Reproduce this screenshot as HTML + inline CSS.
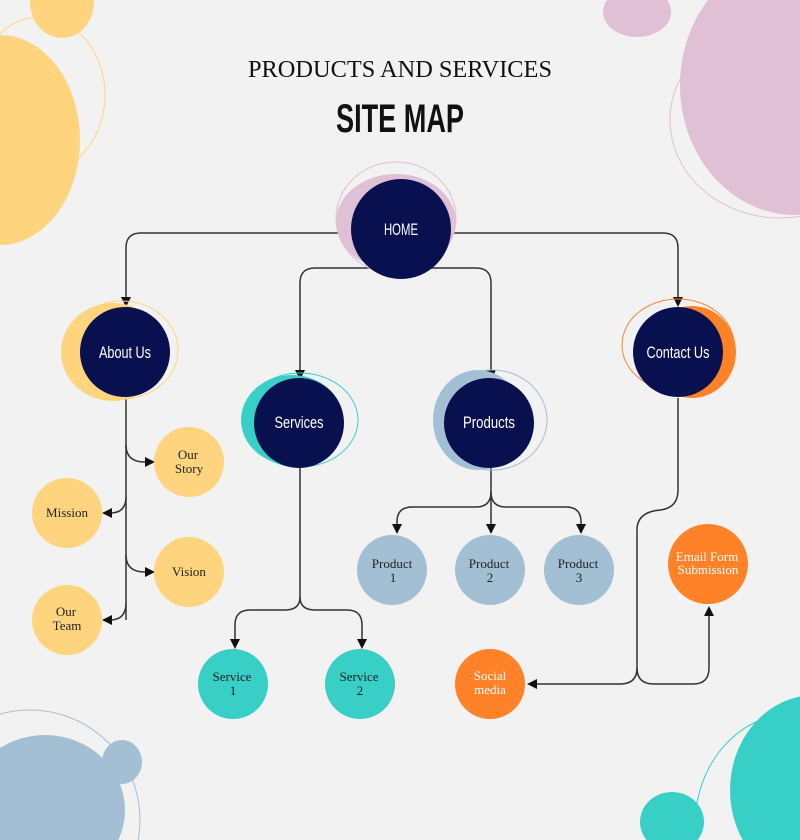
<!DOCTYPE html>
<html><head><meta charset="utf-8"><style>
html,body{margin:0;padding:0;background:#f2f2f2;width:800px;height:840px;overflow:hidden;position:relative;}
svg{display:block;overflow:hidden;position:absolute;left:0;top:0}
.cn{font-family:"Liberation Sans",sans-serif;fill:#fff;font-size:17px}
.sm{font-family:"Liberation Serif",serif;font-size:13px;fill:#222}
.w{fill:#fff}
</style></head><body>
<svg width="800" height="840" viewBox="0 0 800 840" xmlns="http://www.w3.org/2000/svg">
<defs>
<marker id="a" markerWidth="10" markerHeight="10" refX="8" refY="5" orient="auto" markerUnits="userSpaceOnUse">
<path d="M0,0 L10,5 L0,10 z" fill="#111"/></marker>
</defs>
<rect width="800" height="840" fill="#f2f2f2"/>
<ellipse cx="62" cy="2" rx="32" ry="36" fill="#FED57E"/>
<ellipse cx="0" cy="140" rx="80" ry="105" fill="#FED57E"/>
<ellipse cx="40" cy="95" rx="65" ry="78" fill="none" stroke="#FED57E" stroke-width="1"/>
<ellipse cx="637" cy="12" rx="34" ry="25" fill="#DFC0D4"/>
<ellipse cx="795" cy="85" rx="115" ry="130" fill="#DFC0D4"/>
<ellipse cx="780" cy="120" rx="110" ry="98" fill="none" stroke="#DFC0D4" stroke-width="1"/>
<ellipse cx="45" cy="810" rx="80" ry="75" fill="#A3BFD3"/>
<ellipse cx="122" cy="762" rx="20" ry="22" fill="#A3BFD3"/>
<ellipse cx="30" cy="820" rx="110" ry="110" fill="none" stroke="#A3BFD3" stroke-width="1"/>
<ellipse cx="815" cy="790" rx="85" ry="95" fill="#38D0C6"/>
<ellipse cx="672" cy="822" rx="32" ry="30" fill="#38D0C6"/>
<ellipse cx="795" cy="825" rx="100" ry="112" fill="none" stroke="#38D0C6" stroke-width="1"/>
<text x="400" y="77" text-anchor="middle" font-family="Liberation Serif,serif" font-size="24" fill="#111" textLength="304" lengthAdjust="spacingAndGlyphs">PRODUCTS AND SERVICES</text>
<text x="400" y="132" text-anchor="middle" font-family="Liberation Sans,sans-serif" font-weight="bold" font-size="40" fill="#111" textLength="128" lengthAdjust="spacingAndGlyphs">SITE MAP</text>
<g fill="none" stroke="#333" stroke-width="1.5">
<path d="M350,233 H141 Q126,233 126,248 V305" marker-end="url(#a)"/>
<path d="M452,233 H663 Q678,233 678,248 V305" marker-end="url(#a)"/>
<path d="M395,268 H315 Q300,268 300,283 V378" marker-end="url(#a)"/>
<path d="M405,268 H476 Q491,268 491,283 V378" marker-end="url(#a)"/>
<path d="M126,398 V620"/>
<path d="M126,445 Q126,462 145,462 H153" marker-end="url(#a)"/>
<path d="M126,497 Q126,513 110,513 H104" marker-end="url(#a)"/>
<path d="M126,555 Q126,572 145,572 H153" marker-end="url(#a)"/>
<path d="M126,603 Q126,620 110,620 H104" marker-end="url(#a)"/>
<path d="M300,468 V597 Q300,610 285,610 H250 Q235,610 235,625 V647" marker-end="url(#a)"/>
<path d="M300,597 Q300,610 315,610 H347 Q362,610 362,625 V647" marker-end="url(#a)"/>
<path d="M491,468 V532" marker-end="url(#a)"/>
<path d="M491,492 Q491,507 476,507 H412 Q397,507 397,522 V532" marker-end="url(#a)"/>
<path d="M491,492 Q491,507 506,507 H566 Q581,507 581,522 V532" marker-end="url(#a)"/>
<path d="M678,398 V490 Q678,508 660,510 Q637,512 637,530 V668 Q637,684 620,684 H529" marker-end="url(#a)"/>
<path d="M637,668 Q637,684 654,684 H693 Q709,684 709,668 V608" marker-end="url(#a)"/>
</g>
<ellipse cx="396" cy="222" rx="60" ry="48" fill="#DFC0D4"/>
<ellipse cx="396" cy="218" rx="60" ry="56" fill="none" stroke="#DFC0D4"/>
<circle cx="401" cy="229" r="50" fill="#08104F"/>
<text x="401" y="235" text-anchor="middle" class="cn" textLength="34" lengthAdjust="spacingAndGlyphs">HOME</text>
<ellipse cx="113" cy="352" rx="52" ry="49" fill="#FED57E"/>
<ellipse cx="122" cy="350" rx="56" ry="49" fill="none" stroke="#FED57E"/>
<circle cx="125" cy="352" r="45" fill="#08104F"/>
<text x="125" y="358" text-anchor="middle" class="cn" textLength="52" lengthAdjust="spacingAndGlyphs">About Us</text>
<ellipse cx="292" cy="420" rx="51" ry="45" fill="#38D0C6"/>
<ellipse cx="300" cy="420" rx="58" ry="47" fill="none" stroke="#38D0C6"/>
<circle cx="299" cy="423" r="45" fill="#08104F"/>
<text x="299" y="428" text-anchor="middle" class="cn" textLength="49" lengthAdjust="spacingAndGlyphs">Services</text>
<ellipse cx="478" cy="420" rx="45" ry="50" fill="#A3BFD3"/>
<ellipse cx="492" cy="420" rx="55" ry="50" fill="none" stroke="#A3BFD3"/>
<circle cx="489" cy="423" r="45" fill="#08104F"/>
<text x="489" y="428" text-anchor="middle" class="cn" textLength="52" lengthAdjust="spacingAndGlyphs">Products</text>
<ellipse cx="692" cy="352" rx="44" ry="46" fill="#FF8229"/>
<ellipse cx="678" cy="345" rx="56" ry="46" fill="none" stroke="#FF8229"/>
<circle cx="678" cy="352" r="45" fill="#08104F"/>
<text x="678" y="358" text-anchor="middle" class="cn" textLength="63" lengthAdjust="spacingAndGlyphs">Contact Us</text>
<g fill="#FED57E">
<circle cx="189" cy="462" r="35"/><circle cx="67" cy="513" r="35"/>
<circle cx="189" cy="572" r="35"/><circle cx="67" cy="620" r="35"/></g>
<text class="sm" text-anchor="middle"><tspan x="188" y="459">Our</tspan><tspan x="189" y="473">Story</tspan></text>
<text class="sm" text-anchor="middle" x="67" y="517">Mission</text>
<text class="sm" text-anchor="middle" x="189" y="576">Vision</text>
<text class="sm" text-anchor="middle"><tspan x="66" y="616">Our</tspan><tspan x="67" y="630">Team</tspan></text>
<g fill="#38D0C6"><circle cx="233" cy="684" r="35"/><circle cx="360" cy="684" r="35"/></g>
<text class="sm" text-anchor="middle"><tspan x="232" y="681">Service</tspan><tspan x="233" y="695">1</tspan></text>
<text class="sm" text-anchor="middle"><tspan x="359" y="681">Service</tspan><tspan x="360" y="695">2</tspan></text>
<g fill="#A3BFD3"><circle cx="392" cy="570" r="35"/><circle cx="490" cy="570" r="35"/><circle cx="579" cy="570" r="35"/></g>
<text class="sm" text-anchor="middle"><tspan x="392" y="568">Product</tspan><tspan x="393" y="582">1</tspan></text>
<text class="sm" text-anchor="middle"><tspan x="489" y="568">Product</tspan><tspan x="490" y="582">2</tspan></text>
<text class="sm" text-anchor="middle"><tspan x="578" y="568">Product</tspan><tspan x="579" y="582">3</tspan></text>
<circle cx="708" cy="564" r="40" fill="#FF8229"/>
<text class="sm w" text-anchor="middle" font-size="11"><tspan x="707" y="561">Email Form</tspan><tspan x="708" y="574">Submission</tspan></text>
<circle cx="490" cy="684" r="35" fill="#FF8229"/>
<text class="sm w" text-anchor="middle"><tspan x="490" y="680">Social</tspan><tspan x="490" y="694">media</tspan></text>
</svg>
</body></html>
